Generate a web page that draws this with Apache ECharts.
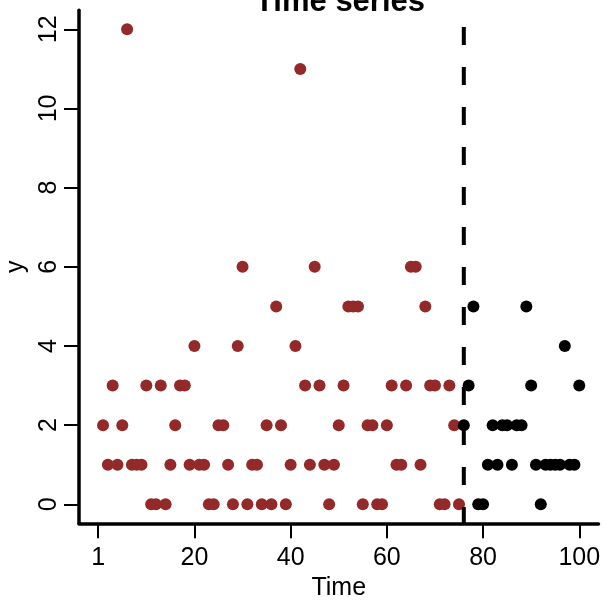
<!DOCTYPE html>
<html>
<head>
<meta charset="utf-8">
<script src="https://cdn.jsdelivr.net/npm/echarts@6/dist/echarts.min.js"></script>
<style>
html,body{margin:0;padding:0;background:#fff;}
#chart{width:605px;height:605px;}
</style>
</head>
<body>
<div id="chart"></div>
<script>
// Observed counts at time 1..100
const counts = [
  2, 1, 3, 1, 2, 12, 1, 1, 1, 3,
  0, 0, 3, 0, 1, 2, 3, 3, 1, 4,
  1, 1, 0, 0, 2, 2, 1, 0, 4, 6,
  0, 1, 1, 0, 2, 0, 5, 2, 0, 1,
  4, 11, 3, 1, 6, 3, 1, 0, 1, 2,
  3, 5, 5, 5, 0, 2, 2, 0, 0, 2,
  3, 1, 1, 3, 6, 6, 1, 5, 3, 3,
  0, 0, 3, 2, 0, 2, 3, 5, 0, 0,
  1, 2, 1, 2, 2, 1, 2, 2, 5, 3,
  1, 0, 1, 1, 1, 1, 4, 1, 1, 3
];
const changepoint = 76;
const xTickValues = [0, 20, 40, 60, 80, 100];
const xTickLabels = ['1', '20', '40', '60', '80', '100'];
const yTickValues = [0, 2, 4, 6, 8, 10, 12];
const titleText = 'Time series';
const xName = 'Time';
const yName = 'y';

const beforeData = [];
const afterData = [];
counts.forEach(function (v, i) {
  const t = i + 1;
  if (t < changepoint) beforeData.push([t, v]); else afterData.push([t, v]);
});

const X_MIN = -4, X_MAX = 104, Y_MIN = -0.48, Y_MAX = 12.48;
const FONT = "'Liberation Sans', Arial, Helvetica, sans-serif";

const chart = echarts.init(document.getElementById('chart'), null, {renderer: 'canvas'});
chart.setOption({
  backgroundColor: '#ffffff',
  animation: false,
  title: {
    text: titleText,
    left: 340,
    top: -13,
    padding: 0,
    textAlign: 'center',
    textStyle: {fontFamily: FONT, fontSize: 31, fontWeight: 'bold', color: '#000'}
  },
  grid: {left: 79, right: 6.5, top: 10.3, bottom: 81.7, containLabel: false, outerBoundsMode: 'none'},
  xAxis: {
    type: 'value',
    min: X_MIN, max: X_MAX,
    name: xName,
    nameLocation: 'middle',
    nameGap: 52,
    nameTextStyle: {fontFamily: FONT, fontSize: 25, color: '#000'},
    splitLine: {show: false},
    axisLine: {show: true, onZero: false, lineStyle: {color: '#000', width: 3.5}},
    axisTick: {show: true, length: 15, customValues: xTickValues, lineStyle: {color: '#000', width: 2}},
    axisLabel: {
      show: true, margin: 22, customValues: xTickValues,
      fontFamily: FONT, fontSize: 25, color: '#000',
      formatter: function (v) { const k = xTickValues.indexOf(v); return k >= 0 ? xTickLabels[k] : ''; }
    }
  },
  yAxis: {
    type: 'value',
    min: Y_MIN, max: Y_MAX,
    name: yName,
    nameLocation: 'middle',
    nameGap: 48,
    nameRotate: 90,
    nameTextStyle: {fontFamily: FONT, fontSize: 25, color: '#000'},
    splitLine: {show: false},
    axisLine: {show: true, onZero: false, lineStyle: {color: '#000', width: 3.5}},
    axisTick: {show: true, length: 15, customValues: yTickValues, lineStyle: {color: '#000', width: 2}},
    axisLabel: {
      show: true, margin: 17, rotate: 90, customValues: yTickValues,
      fontFamily: FONT, fontSize: 25, color: '#000'
    }
  },
  series: [
    {
      type: 'scatter', name: 'before', data: beforeData,
      symbol: 'circle', symbolSize: 12,
      itemStyle: {color: '#932929', opacity: 1},
      z: 2
    },
    {
      type: 'scatter', name: 'after', data: afterData,
      symbol: 'circle', symbolSize: 12,
      itemStyle: {color: '#000000', opacity: 1},
      z: 2
    },
    {
      type: 'line', name: 'changepoint',
      data: [[changepoint, Y_MIN], [changepoint, Y_MAX]],
      symbol: 'none', silent: true,
      lineStyle: {color: '#000', width: 4, type: [18, 22], dashOffset: 1.7, cap: 'butt'},
      z: 3
    }
  ]
});
</script>
</body>
</html>
